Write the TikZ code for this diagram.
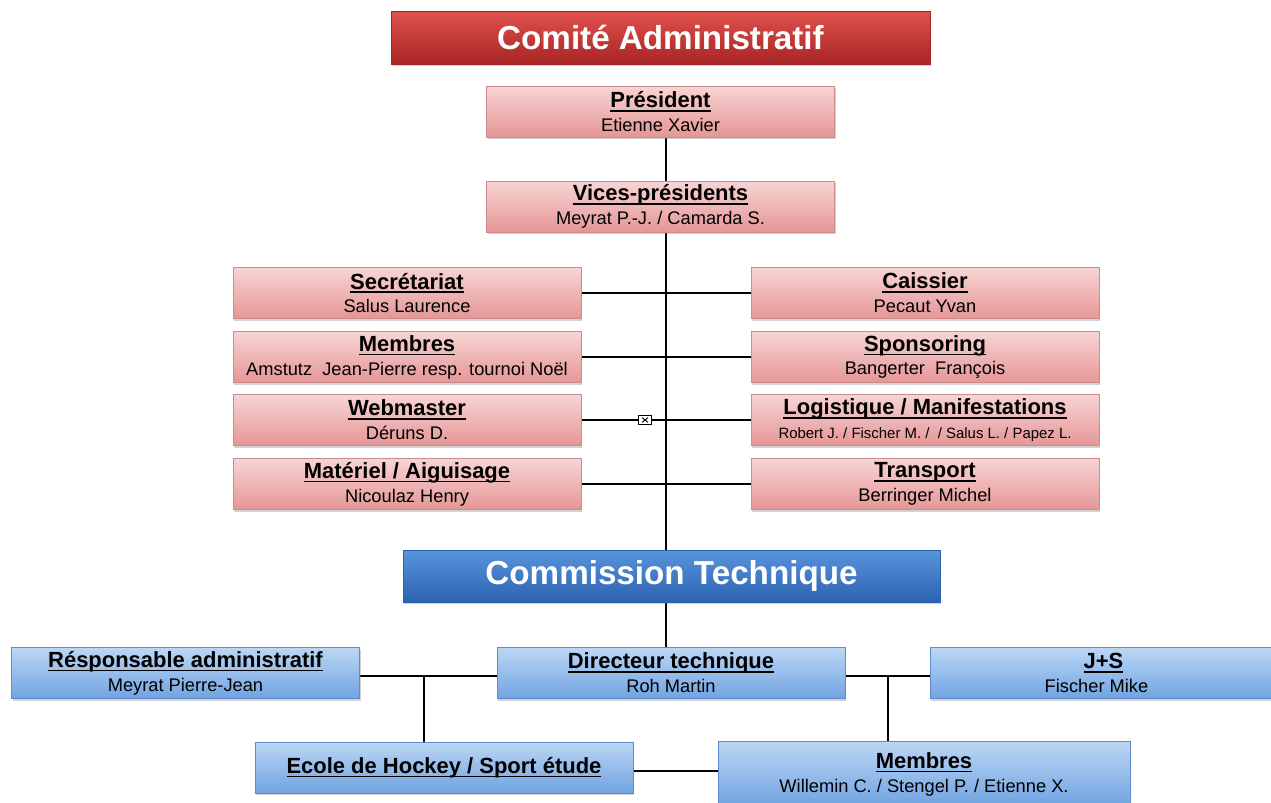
\documentclass[tikz,border=0pt]{standalone}
\usepackage{fontspec}
\setmainfont{Liberation Sans}
\usepackage{tikz}
\usetikzlibrary{shadows}
\pgfdeclarelayer{edgelayer}
\pgfdeclarelayer{nodelayer}
\pgfsetlayers{edgelayer,nodelayer,main}
\definecolor{pinktop}{RGB}{248,212,212}
\definecolor{pinkbot}{RGB}{229,150,150}
\definecolor{pinkedge}{RGB}{205,140,140}
\definecolor{redtop}{RGB}{224,82,78}
\definecolor{redbot}{RGB}{168,36,36}
\definecolor{bluetop}{RGB}{88,148,220}
\definecolor{bluebot}{RGB}{44,98,176}
\definecolor{lbluetop}{RGB}{188,214,244}
\definecolor{lbluebot}{RGB}{112,163,226}
\definecolor{lblueedge}{RGB}{95,140,200}
\tikzstyle{none} = []
\tikzstyle{org box} = [rectangle, align=center, inner sep=0pt,
  minimum width=6.96cm, minimum height=1.02cm,
  font=\fontsize{12.5}{13.6}\selectfont,
  drop shadow={shadow xshift=0.6pt, shadow yshift=-1.4pt, opacity=0.35}]
\tikzstyle{pink box} = [org box, draw=pinkedge, line width=0.4pt,
  top color=pinktop, bottom color=pinkbot]
\tikzstyle{blue box} = [org box, draw=lblueedge, line width=0.4pt,
  top color=lbluetop, bottom color=lbluebot]
\tikzstyle{red title} = [org box, draw=redbot, top color=redtop, bottom color=redbot,
  text=white, font=\bfseries\fontsize{18.9}{20}\selectfont,
  minimum width=10.78cm, minimum height=1.06cm]
\tikzstyle{blue title} = [org box, draw=bluebot, top color=bluetop, bottom color=bluebot,
  text=white, font=\bfseries\fontsize{18.9}{20}\selectfont,
  minimum width=10.74cm, minimum height=1.04cm]
\tikzstyle{link} = [black, line width=1.1pt]
\tikzstyle{marker} = [draw, fill=white, line width=0.6pt, inner sep=0pt,
  minimum width=0.26cm, minimum height=0.18cm,
  path picture={\draw[line width=0.5pt] ([shift={(2pt,1.2pt)}]path picture bounding box.south west)
    -- ([shift={(-2pt,-1.2pt)}]path picture bounding box.north east)
    ([shift={(2pt,-1.2pt)}]path picture bounding box.north west)
    -- ([shift={(-2pt,1.2pt)}]path picture bounding box.south east);}]
\newsavebox\headbox
\newcommand{\heading}[1]{\sbox\headbox{\textbf{#1}}\rlap{\rule[-2.3pt]{\wd\headbox}{0.9pt}}\usebox\headbox}
\newcommand{\orgtext}[2]{\heading{#1}\\{\fontsize{10.4}{12}\selectfont #2}}

\begin{document}
\begin{tikzpicture}[x=0.02cm, y=-0.02cm]
	\useasboundingbox (0, 0) rectangle (1271, 802);
	\begin{pgfonlayer}{nodelayer}
		\node [style=red title] (0) at (660.5, 37.5) {Comité Administratif};
		\node [style=pink box] (1) at (660.5, 111.5) {\orgtext{Président}{Etienne Xavier}};
		\node [style=pink box] (2) at (660.5, 206.5) {\orgtext{Vices-présidents}{Meyrat P.-J. / Camarda S.}};
		\node [style=pink box] (3) at (407, 293) {\orgtext{Secrétariat}{Salus Laurence}};
		\node [style=pink box] (4) at (925, 293) {\orgtext{Caissier}{Pecaut Yvan}};
		\node [style=pink box] (5) at (407, 357) {\orgtext{Membres}{Amstutz~ Jean-Pierre resp. tournoi Noël}};
		\node [style=pink box] (6) at (925, 357) {\orgtext{Sponsoring}{Bangerter~ François}};
		\node [style=pink box] (7) at (407, 420) {\orgtext{Webmaster}{Déruns D.}};
		\node [style=pink box] (8) at (925, 420) {\heading{Logistique / Manifestations}\\{\fontsize{8.5}{10}\selectfont Robert J. / Fischer M. /~ / Salus L. / Papez L.}};
		\node [style=pink box] (9) at (407, 484) {\orgtext{Matériel / Aiguisage}{Nicoulaz Henry}};
		\node [style=pink box] (10) at (925, 484) {\orgtext{Transport}{Berringer Michel}};
		\node [style=marker] (11) at (645, 420) {};
		\node [style=blue title] (12) at (671.5, 576) {Commission Technique};
		\node [style=blue box] (13) at (185.5, 673) {\orgtext{Résponsable administratif}{Meyrat Pierre-Jean}};
		\node [style=blue box] (14) at (671, 673) {\orgtext{Directeur technique}{Roh Martin}};
		\node [style=blue box, minimum width=7cm] (15) at (1105, 673) {\hspace*{-0.06cm}\orgtext{J+S}{Fischer Mike}\hspace*{0.34cm}};
		\node [style=blue box, minimum width=7.56cm] (16) at (444, 767.5) {\heading{Ecole de Hockey / Sport étude}};
		\node [style=blue box, minimum width=8.24cm, minimum height=1.32cm] (17) at (924, 774) {\orgtext{Membres}{Willemin C. / Stengel P. / Etienne X.}};
		\node [style=none] (18) at (666, 111.5) {};
		\node [style=none] (19) at (666, 576) {};
		\node [style=none] (20) at (666, 673) {};
		\node [style=none] (21) at (424, 676) {};
		\node [style=none] (22) at (424, 768) {};
		\node [style=none] (23) at (888, 676) {};
		\node [style=none] (24) at (888, 774) {};
		\node [style=none] (25) at (600, 771) {};
		\node [style=none] (26) at (750, 771) {};
		\node [style=none] (27) at (300, 676) {};
		\node [style=none] (28) at (1000, 676) {};
	\end{pgfonlayer}
	\begin{pgfonlayer}{edgelayer}
		\draw [style=link] (18.center) to (19.center);
		\draw [style=link] (19.center) to (20.center);
		\draw [style=link] (3.center) to (4.center);
		\draw [style=link] (5.center) to (6.center);
		\draw [style=link] (7.center) to (8.center);
		\draw [style=link] (9.center) to (10.center);
		\draw [style=link] (27.center) to (28.center);
		\draw [style=link] (21.center) to (22.center);
		\draw [style=link] (23.center) to (24.center);
		\draw [style=link] (25.center) to (26.center);
	\end{pgfonlayer}
\end{tikzpicture}
\end{document}
